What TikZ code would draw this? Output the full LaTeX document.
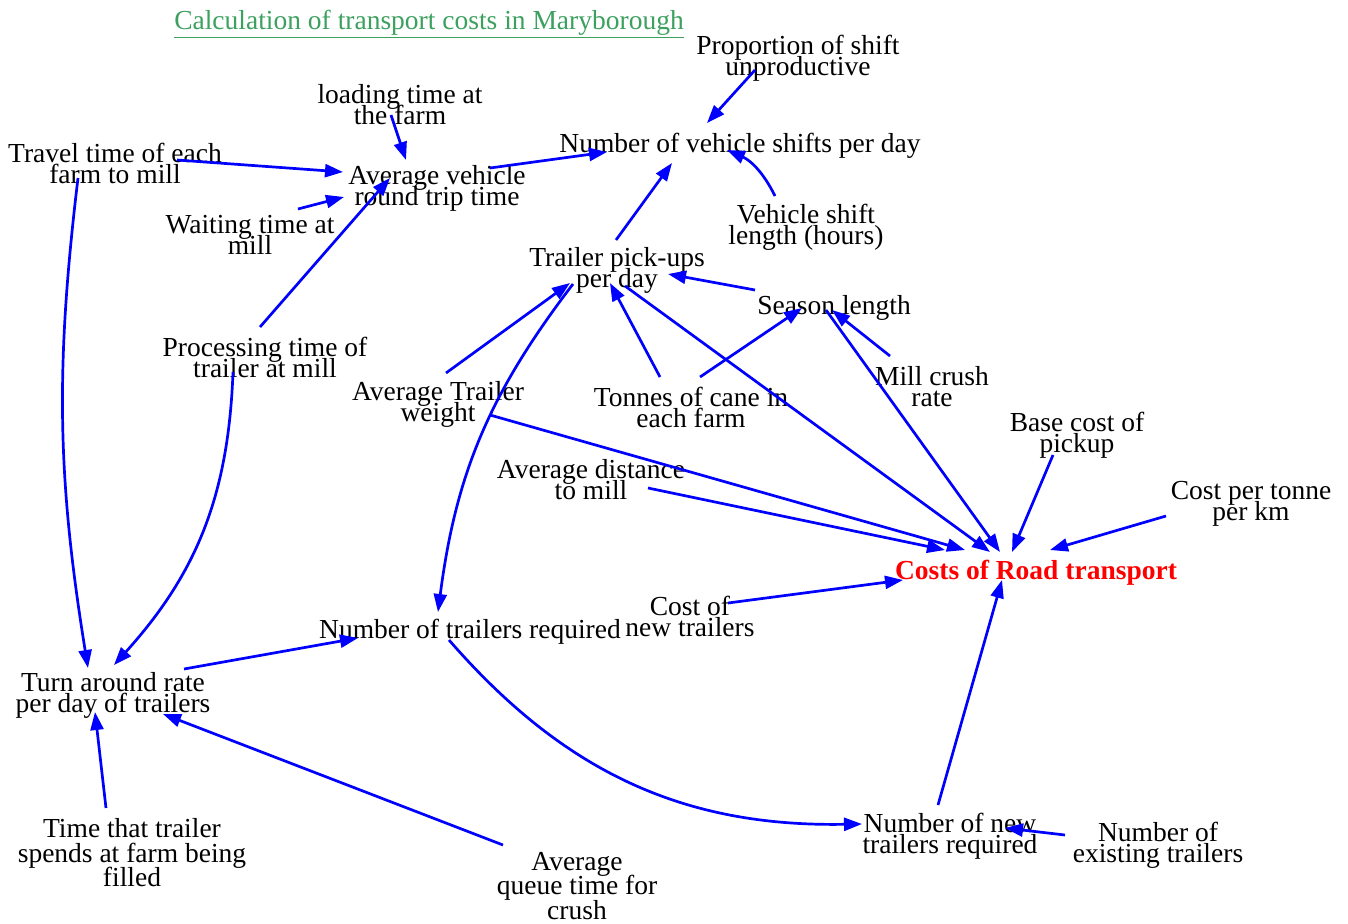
\documentclass[tikz,border=0pt]{standalone}
\usepackage{fontspec}
\setmainfont{Liberation Serif}
\usetikzlibrary{arrows.meta}
\definecolor{titlegreen}{RGB}{60,160,95}
\newcommand{\tightlines}{\lineskiplimit=-50pt\relax\lineskip=0pt\relax}
\tikzset{
  lbl/.style={align=center, inner sep=0pt, font=\fontsize{27.5}{21}\selectfont\tightlines},
  lblw/.style={align=center, inner sep=0pt, font=\fontsize{27.5}{24.5}\selectfont\tightlines},
  arr/.style={draw=blue, line width=2.7pt, -{Triangle[length=18pt,width=13pt]}},
}
\begin{document}
\begin{tikzpicture}[x=1pt,y=-1pt]
\useasboundingbox (0,0) rectangle (1348,923);
\node[lbl, text=titlegreen] (title) at (429,24) {\underline{Calculation of transport costs in Maryborough}};
\node[lbl] (prop) at (798,58) {Proportion of shift\\unproductive};
\node[lbl] (load) at (400,105) {loading time at\\the farm};
\node[lbl] (shifts) at (740,146) {Number of vehicle shifts per day};
\node[lbl] (travel) at (115,163) {Travel time of each\\farm to mill};
\node[lbl] (avgveh) at (437,188) {Average vehicle\\round trip time};
\node[lbl] (wait) at (250,235) {Waiting time at\\mill};
\node[lbl] (vshift) at (806,227) {Vehicle shift\\length (hours)};
\node[lbl] (pick) at (617,270) {Trailer pick-ups\\per day};
\node[lbl] (season) at (834,308) {Season length};
\node[lbl] (proc) at (265,357) {Processing time of\\trailer at mill};
\node[lbl] (mill) at (932,387) {Mill crush\\rate};
\node[lbl] (atw) at (438,404) {Average Trailer\\weight};
\node[lbl] (tonnes) at (691,407) {Tonnes of cane in\\each farm};
\node[lbl] (base) at (1077,435) {Base cost of\\pickup};
\node[lbl] (dist) at (591,480) {Average distance\\to mill};
\node[lbl] (cpt) at (1251,504) {Cost per tonne\\per km};
\node[lbl, text=red, font=\fontsize{27.5}{21}\selectfont\bfseries] (costs) at (1036,573) {Costs of Road transport};
\node[lbl] (cnew) at (690,616) {Cost of\\new trailers};
\node[lbl] (ntr) at (470,632) {Number of trailers required};
\node[lbl] (turn) at (113,695) {Turn around rate\\per day of trailers};
\node[lblw] (tspend) at (132,853) {Time that trailer\\spends at farm being\\filled};
\node[lblw] (queue) at (577,886) {Average\\queue time for\\crush};
\node[lbl] (nnew) at (950,836) {Number of new\\trailers required};
\node[lbl] (nexist) at (1158,845) {Number of\\existing trailers};

\draw[arr] ([shift={(-43,12)}]prop.center) -- ([shift={(-33,-23)}]shifts.center);
\draw[arr] ([shift={(-9,10)}]load.center) -- ([shift={(-31,-28)}]avgveh.center);
\draw[arr] ([shift={(62,-3)}]travel.center) -- ([shift={(-94,-16)}]avgveh.center);
\draw[arr] ([shift={(48,-26)}]wait.center) -- ([shift={(-93,9)}]avgveh.center);
\draw[arr] ([shift={(53,-20)}]avgveh.center) -- ([shift={(-133,6)}]shifts.center);
\draw[arr] ([shift={(-5,-30)}]proc.center) -- ([shift={(-47,-10)}]avgveh.center);
\draw[arr] ([shift={(-1,-30)}]pick.center) -- ([shift={(-68,17)}]shifts.center);
\draw[arr] ([shift={(-31,-31)}]vshift.center) to[bend right=20] ([shift={(-13,4)}]shifts.center);
\draw[arr] ([shift={(-79,-18)}]season.center) -- ([shift={(51,4)}]pick.center);
\draw[arr] ([shift={(8,-31)}]atw.center) -- ([shift={(-47,13)}]pick.center);
\draw[arr] ([shift={(-31,-30)}]tonnes.center) -- ([shift={(-7,13)}]pick.center);
\draw[arr] ([shift={(9,-30)}]tonnes.center) -- ([shift={(-32,0)}]season.center);
\draw[arr] ([shift={(-42,-31)}]mill.center) -- ([shift={(-2,2)}]season.center);
\draw[arr] ([shift={(-44,14)}]pick.center) to[bend right=15] ([shift={(-32,-20)}]ntr.center);
\draw[arr] ([shift={(8,16)}]pick.center) -- ([shift={(-46,-21)}]costs.center);
\draw[arr] ([shift={(-8,2)}]season.center) -- ([shift={(-36,-21)}]costs.center);
\draw[arr] ([shift={(52,11)}]atw.center) -- ([shift={(-71,-23)}]costs.center);
\draw[arr] ([shift={(57,8)}]dist.center) -- ([shift={(-91,-23)}]costs.center);
\draw[arr] ([shift={(-24,20)}]base.center) -- ([shift={(-24,-21)}]costs.center);
\draw[arr] ([shift={(-85,12)}]cpt.center) -- ([shift={(14,-23)}]costs.center);
\draw[arr] ([shift={(38,-13)}]cnew.center) -- ([shift={(-133,7)}]costs.center);
\draw[arr] ([shift={(-12,-31)}]nnew.center) -- ([shift={(-34,7)}]costs.center);
\draw[arr] ([shift={(-93,-10)}]nexist.center) -- ([shift={(55,-8)}]nnew.center);
\draw[arr] ([shift={(-21,8)}]ntr.center) to[bend right=25] ([shift={(-88,-12)}]nnew.center);
\draw[arr] ([shift={(71,-26)}]turn.center) -- ([shift={(-112,6)}]ntr.center);
\draw[arr] ([shift={(-37,15)}]travel.center) to[bend right=8] ([shift={(-25,-27)}]turn.center);
\draw[arr] ([shift={(-32,15)}]proc.center) to[bend left=20] ([shift={(1,-30)}]turn.center);
\draw[arr] ([shift={(-26,-45)}]tspend.center) -- ([shift={(-18,17)}]turn.center);
\draw[arr] ([shift={(-74,-41)}]queue.center) -- ([shift={(50,19)}]turn.center);
\end{tikzpicture}
\end{document}
